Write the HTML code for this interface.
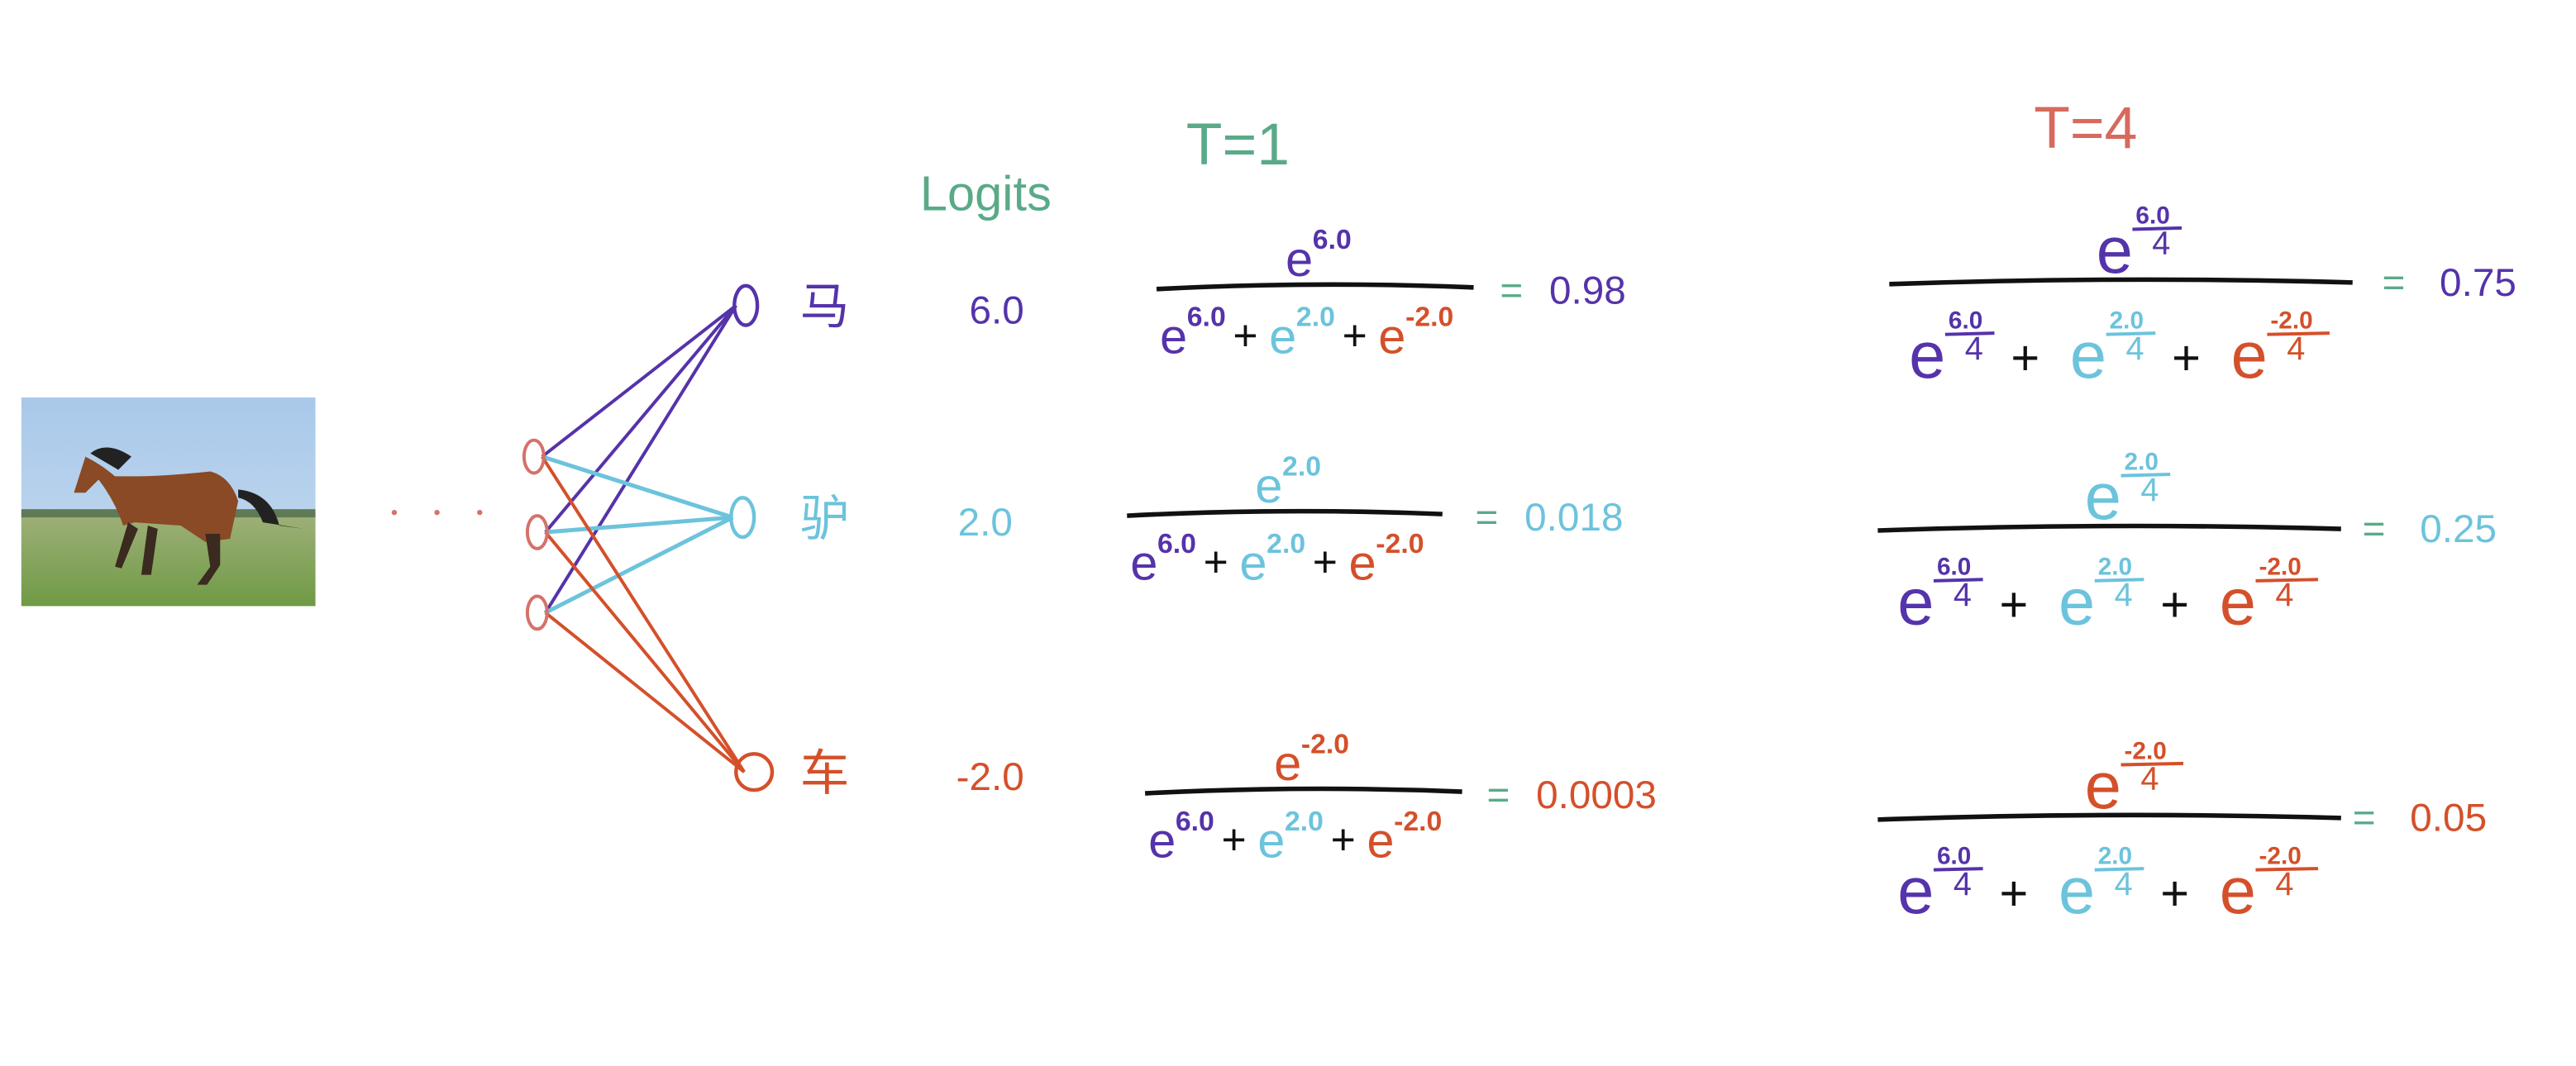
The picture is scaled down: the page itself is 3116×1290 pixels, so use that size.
<!DOCTYPE html>
<html><head><meta charset="utf-8"><style>
html,body{margin:0;padding:0;background:#fff;width:3116px;height:1290px;overflow:hidden}
svg{display:block}
text{font-family:"Liberation Sans","Noto Sans CJK SC",sans-serif}
</style></head><body>
<svg id="s" width="3116" height="1290" viewBox="0 0 1568 649" preserveAspectRatio="none" xmlns="http://www.w3.org/2000/svg">
<defs>
<linearGradient id="sky" x1="0" y1="0" x2="0" y2="1"><stop offset="0" stop-color="#a9c8ea"/><stop offset="1" stop-color="#c6dcef"/></linearGradient>
<linearGradient id="grass" x1="0" y1="0" x2="0" y2="1"><stop offset="0" stop-color="#9fb07a"/><stop offset="1" stop-color="#6f9a45"/></linearGradient>
</defs>
<g>
<rect x="13" y="242" width="179" height="127" fill="url(#sky)"/>
<rect x="13" y="312" width="179" height="57" fill="url(#grass)"/>
<rect x="13" y="310" width="179" height="5" fill="#5f7a55"/>
<path d="M70,290 Q62,283 52,278 L45,300 L52,300 L60,292 Q70,305 75,320 L82,318 L110,320 L125,330 L140,328 L145,305 Q140,290 128,287 Q100,290 80,290 Z" fill="#8a4a25"/>
<path d="M145,298 Q165,300 170,320 L185,322 L160,318 Q155,305 145,303 Z" fill="#222"/>
<path d="M55,276 Q65,268 80,278 L72,286 Z" fill="#222"/>
<path d="M78,318 L70,345 L74,346 L84,322 Z M90,320 L86,350 L92,350 L96,322 Z M125,325 L128,345 L120,356 L126,356 L134,344 L134,325 Z" fill="#3a2a20"/>
</g>
<g id="net"></g>
<g id="labels"></g>
<g id="eqs"></g>
</svg>
<script>
const classes = ["马","驴","车"];
const logits = [6.0, 2.0, -2.0];
const logitLabels = ["6.0","2.0","-2.0"];
const resultsT1 = ["0.98","0.018","0.0003"];
const resultsT4 = ["0.75","0.25","0.05"];
const temps = [1, 4];
const colors = ["#5533aa","#6cc3dc","#d4502a"];
const NS="http://www.w3.org/2000/svg";
function mk(tag, attrs, parent, txt){const e=document.createElementNS(NS,tag);for(const k in attrs)e.setAttribute(k,attrs[k]);if(txt!==undefined)e.textContent=txt;parent.appendChild(e);return e;}
const net=document.getElementById('net'), labels=document.getElementById('labels'), eqs=document.getElementById('eqs');
[240,266,292].forEach((dx,i)=>{const d=mk('circle',{cx:dx,cy:312,r:1.6,fill:'#d4726a'},net);

});
const hid=[[325,278],[327,324],[327,373]];
const outN=[[452,186],[450,315],[457,470]];
outN.forEach((o,j)=>{hid.forEach((h,i)=>{const l=mk('line',{x1:h[0]+5,y1:h[1],x2:o[0]-4,y2:o[1],stroke:colors[j],'stroke-width':j==1?2.5:2},net);

});});
hid.forEach((h,i)=>{const e=mk('ellipse',{cx:h[0],cy:h[1],rx:6,ry:10,fill:'none',stroke:'#d4726a','stroke-width':2},net);

});
outN.forEach((o,j)=>{const e=mk('ellipse',{cx:o[0]+2,cy:o[1],rx:j==2?11:7,ry:j==2?11:12,fill:'none',stroke:colors[j],'stroke-width':2.2},net);

});
classes.forEach((c,j)=>{const t=mk('text',{x:487,y:outN[j][1]+11,fill:colors[j],'font-size':30},labels,c);


const v=mk('text',{x:logits[j]<0?582:(j==0?590:583),y:outN[j][1]+11,fill:colors[j],'font-size':24},labels,logitLabels[j]);

});
let t=mk('text',{x:560,y:128,fill:'#5aaa88','font-size':30},labels,'Logits');


t=mk('text',{x:722,y:100,fill:'#5aaa88','font-size':36},labels,'T=1');


t=mk('text',{x:1238,y:90,fill:'#d66a5e','font-size':36},labels,'T=4');



function term(g,x,y,j,T,big){
  const es=big?40:30;
  mk('text',{x:x,y:y,fill:colors[j],'font-size':es},g,'e');
  const ex=x+es*0.55;
  if(T===1){mk('text',{x:ex,y:y-es*0.55,fill:colors[j],'font-size':17,'font-weight':'bold'},g,logitLabels[j]);return ex+(logits[j]<0?34:26);}
  mk('text',{x:ex+2,y:y-es*0.75,fill:colors[j],'font-size':15,'font-weight':'bold'},g,logitLabels[j]);
  mk('line',{x1:ex,y1:y-es*0.66,x2:ex+(logits[j]<0?38:30),y2:y-es*0.68,stroke:colors[j],'stroke-width':2},g);
  mk('text',{x:ex+12,y:y-es*0.28,fill:colors[j],'font-size':20},g,String(T));
  return ex+(logits[j]<0?40:32);
}
function fraction(j,T,x1,x2,ly,res,rx){
  const g=mk('g',{},eqs);
  
  
  const big=T!==1;
  mk('path',{d:`M${x1},${ly+1} Q${(x1+x2)/2},${ly-4} ${x2},${ly}`,fill:'none',stroke:'#111','stroke-width':2.8},g);
  const mid=(x1+x2)/2;
  term(g,mid-(big?15:18),ly-(big?6:7),j,T,big);
  let x=x1+(big?12:2); const dy=ly+(big?58:40);
  for(let k=0;k<3;k++){x=term(g,x,dy,k,T,big);
    if(k<2){mk('text',{x:x+(big?8:2),y:dy-2,fill:'#111','font-size':big?30:26},g,'+');x+=big?44:24;}}
  mk('text',{x:rx,y:ly+(big?8:10),fill:'#5aaa88','font-size':24},g,'=');
  const r=mk('text',{x:rx+(big?35:30),y:ly+(big?8:10),fill:colors[j],'font-size':24},g,res);
  
  
}
fraction(0,temps[0],704,897,175,resultsT1[0],913);
fraction(1,temps[0],686,878,313,resultsT1[1],898);
fraction(2,temps[0],697,890,482,resultsT1[2],905);
fraction(0,temps[1],1150,1432,172,resultsT4[0],1450);
fraction(1,temps[1],1143,1425,322,resultsT4[1],1438);
fraction(2,temps[1],1143,1425,498,resultsT4[2],1432);
</script>
</body></html>
